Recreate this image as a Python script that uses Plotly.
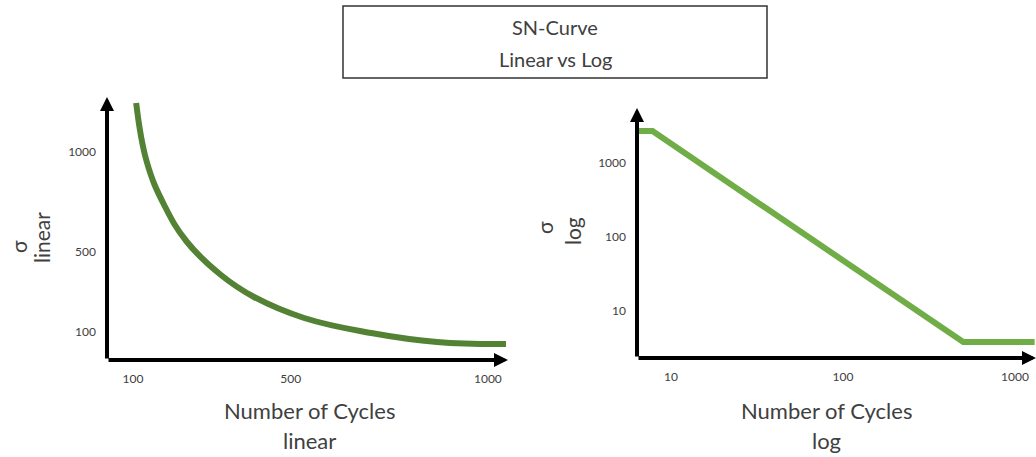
import plotly.graph_objects as go

# ---- data ----
lin_cycles = [108, 135, 179, 237, 323, 407, 534, 704, 871, 1046]
lin_sigma = [1245, 950, 735, 550, 385, 275, 170, 95, 50, 40]
lin_xticks = [100, 500, 1000]
lin_yticks = [100, 500, 1000]

log_cycles = [6.4, 7.8, 500, 1300]
log_sigma = [2700, 2700, 3.8, 3.8]
log_xticks = [10, 100, 1000]
log_yticks = [10, 100, 1000]

W, H = 1036, 457
FONT = "Lato"
TICKCOL = "#404040"
TXTCOL = "#404040"

def px(x):
    return x / W

def py(y):
    return 1 - y / H

fig = go.Figure()
fig.add_trace(go.Scatter(x=lin_cycles, y=lin_sigma, mode="lines",
                         line=dict(color="#548235", width=6, shape="spline", smoothing=1.2),
                         xaxis="x", yaxis="y", showlegend=False, hoverinfo="skip"))
fig.add_trace(go.Scatter(x=log_cycles, y=log_sigma, mode="lines",
                         line=dict(color="#70AD47", width=6),
                         xaxis="x2", yaxis="y2", showlegend=False, hoverinfo="skip"))

tickfont = dict(family=FONT, size=12, color=TICKCOL)
common = dict(showgrid=False, zeroline=False, showline=False, ticks="",
              tickfont=tickfont, ticklabelstandoff=10, fixedrange=True)

fig.update_layout(
    width=W, height=H,
    margin=dict(l=0, r=0, t=0, b=0),
    paper_bgcolor="white", plot_bgcolor="white",
    xaxis=dict(domain=[px(107), px(508)], range=[34, 1051], tickvals=lin_xticks,
               anchor="y", **common),
    yaxis=dict(domain=[py(360), py(97)], range=[-40, 1275], tickvals=lin_yticks,
               anchor="x", **common),
    xaxis2=dict(domain=[px(637), px(1036)], type="log", range=[0.802, 3.122],
                tickvals=log_xticks, anchor="y2", **common),
    yaxis2=dict(domain=[py(358), py(108)], type="log", range=[0.365, 3.743],
                tickvals=log_yticks, anchor="x2", **common),
)

ann = []
# axis arrows
for xa, ya in (("x", "y"), ("x2", "y2")):
    ann.append(dict(x=1, y=0, ax=0, ay=0, xref=f"{xa} domain", yref=f"{ya} domain",
                    axref=f"{xa} domain", ayref=f"{ya} domain", showarrow=True,
                    arrowhead=2, arrowsize=0.7, arrowwidth=4, arrowcolor="black", text=""))
    ann.append(dict(x=0, y=1, ax=0, ay=0, xref=f"{xa} domain", yref=f"{ya} domain",
                    axref=f"{xa} domain", ayref=f"{ya} domain", showarrow=True,
                    arrowhead=2, arrowsize=0.7, arrowwidth=4, arrowcolor="black", text=""))

def label(text, x, y, size, angle=0):
    ann.append(dict(text=text, x=px(x), y=py(y), xref="paper", yref="paper",
                    showarrow=False, xanchor="center", yanchor="middle", textangle=angle,
                    font=dict(family=FONT, size=size, color=TXTCOL)))

label("SN-Curve", 555, 27, 20)
label("Linear vs Log", 555, 59, 20)
label("Number of Cycles", 309, 410, 22)
label("linear", 309, 440, 22)
label("Number of Cycles", 826, 410, 22)
label("log", 826, 440, 22)
label("σ", 18, 247, 21, -90)
label("linear", 41, 238, 21, -90)
label("σ", 544, 228, 21, -90)
label("log", 572, 231, 21, -90)

fig.update_layout(annotations=ann)
fig.add_shape(type="rect", xref="paper", yref="paper",
              x0=px(343), x1=px(767), y0=py(78), y1=py(6),
              line=dict(color="#333333", width=1.5), fillcolor="rgba(0,0,0,0)")

fig.write_html("out.html", config={"displayModeBar": False},
               post_script="document.body.style.margin='0';document.body.style.overflow='hidden';")
